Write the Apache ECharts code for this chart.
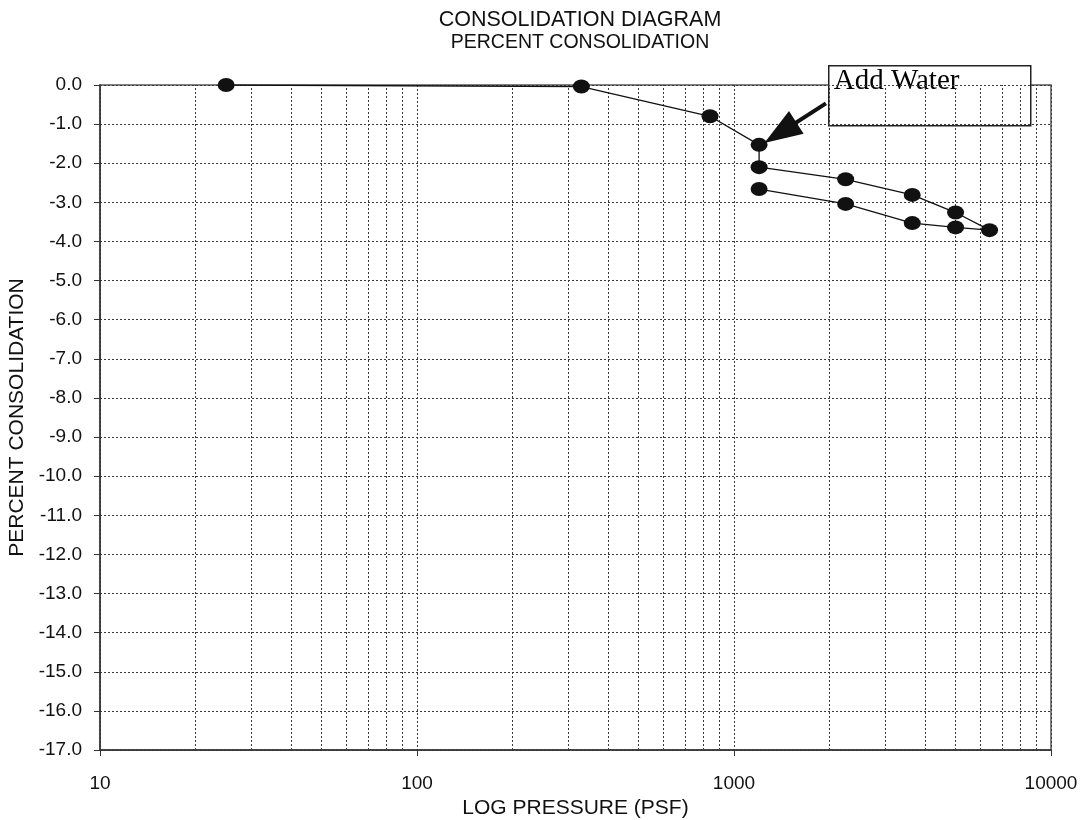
<!DOCTYPE html>
<html>
<head>
<meta charset="utf-8">
<title>Consolidation Diagram</title>
<script src="https://cdn.jsdelivr.net/npm/echarts@6/dist/echarts.min.js"></script>
<style>
  html, body { margin: 0; padding: 0; background: #fff; }
  #chart { width: 1081px; height: 820px; }
</style>
</head>
<body>
<div id="chart"></div>
<script>
// Load steps of the consolidation test (pressure in psf, consolidation in %)
const pressure      = [25, 330, 840, 1200, 1200, 2250, 3650, 5000, 6400, 5000, 3650, 2250, 1200];
const consolidation = [0.0, -0.04, -0.8, -1.53, -2.1, -2.41, -2.81, -3.26, -3.71, -3.64, -3.53, -3.04, -2.66];

// Intermediate log-cycle grid values (2..9 within each decade)
const minorGridValues = [20, 30, 40, 50, 60, 70, 80, 90,
                         200, 300, 400, 500, 600, 700, 800, 900,
                         2000, 3000, 4000, 5000, 6000, 7000, 8000, 9000];

// "Add Water" callout: arrow from the note box to the wetting step
const noteText = 'Add Water';
const arrowStart = [1950, -0.47];
const arrowEnd = [1400, -1.22];

const gridColor = '#3a3a3a';
const sans = '"Liberation Sans", Arial, sans-serif';

const chart = echarts.init(document.getElementById('chart'));

chart.setOption({
  backgroundColor: '#fff',
  animation: false,
  title: {
    text: 'CONSOLIDATION DIAGRAM',
    subtext: 'PERCENT CONSOLIDATION',
    left: 575,
    top: 4,
    textAlign: 'center',
    itemGap: 2,
    textStyle: { fontFamily: sans, fontSize: 21.5, fontWeight: 'normal', color: '#111' },
    subtextStyle: { fontFamily: sans, fontSize: 19.5, color: '#111' }
  },
  grid: {
    left: 100, right: 30, top: 85, bottom: 70,
    outerBoundsMode: 'none',
    containLabel: false,
    show: true,
    borderColor: '#555',
    borderWidth: 1.5
  },
  xAxis: {
    type: 'log',
    logBase: 10,
    min: 10,
    max: 10000,
    name: 'LOG PRESSURE (PSF)',
    nameLocation: 'middle',
    nameGap: 39,
    nameTextStyle: { fontFamily: sans, fontSize: 21, color: '#111' },
    axisLine: { show: true, onZero: false, lineStyle: { color: '#333', width: 1.5 } },
    axisTick: { show: true, length: 6, lineStyle: { color: '#333' } },
    axisLabel: {
      margin: 24,
      fontFamily: sans, fontSize: 19, color: '#111',
      formatter: v => String(Math.round(v))
    },
    splitLine: { show: true, lineStyle: { color: gridColor, width: 1, type: [2, 2] } }
  },
  yAxis: {
    type: 'value',
    min: -17,
    max: 0,
    interval: 1,
    name: 'PERCENT CONSOLIDATION',
    nameLocation: 'middle',
    nameGap: 70,
    nameTextStyle: { fontFamily: sans, fontSize: 21, color: '#111' },
    axisLine: { show: true, onZero: false, lineStyle: { color: '#333', width: 1.5 } },
    axisTick: { show: true, length: 6, lineStyle: { color: '#333' } },
    axisLabel: {
      margin: 18,
      fontFamily: sans, fontSize: 19, color: '#111',
      formatter: v => v.toFixed(1)
    },
    splitLine: { show: true, lineStyle: { color: gridColor, width: 1, type: [2, 2] } }
  },
  series: [
    {
      // minor log-cycle grid lines
      type: 'line',
      data: [],
      silent: true,
      z: 1,
      markLine: {
        silent: true,
        symbol: ['none', 'none'],
        label: { show: false },
        lineStyle: { color: gridColor, width: 1, type: [2, 2] },
        data: minorGridValues.map(v => ({ xAxis: v }))
      }
    },
    {
      name: 'Consolidation',
      type: 'line',
      data: pressure.map((p, i) => [p, consolidation[i]]),
      z: 5,
      symbol: 'circle',
      symbolSize: [17, 14],
      itemStyle: { color: '#111' },
      lineStyle: { color: '#111', width: 1.3 },
      markLine: {
        silent: true,
        symbol: ['none', 'triangle'],
        symbolSize: [27, 38],
        label: { show: false },
        lineStyle: { color: '#111', width: 4, type: 'solid' },
        data: [[{ coord: arrowStart }, { coord: arrowEnd }]]
      }
    }
  ],
  graphic: [
    {
      type: 'group',
      left: 828,
      top: 65,
      z: 100,
      children: [
        {
          type: 'rect',
          shape: { x: 0, y: 0, width: 202, height: 60 },
          style: { fill: '#fff', stroke: '#222', lineWidth: 1.5 }
        },
        {
          type: 'text',
          x: 5,
          y: 1,
          style: {
            text: noteText,
            font: '29px "Liberation Serif", "Times New Roman", serif',
            fill: '#000'
          }
        }
      ]
    }
  ]
});
</script>
</body>
</html>
